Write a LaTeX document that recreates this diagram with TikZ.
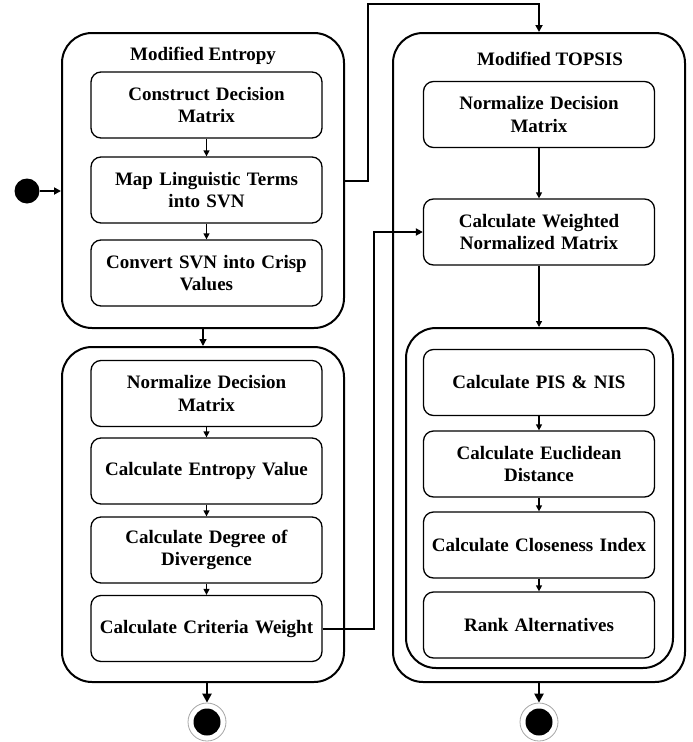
\documentclass[tikz,border=0pt]{standalone}
\usepackage{fontspec}
\setmainfont{Liberation Serif}
\usepackage{tikz}
\usetikzlibrary{arrows.meta}
\tikzset{
	stepbox/.style={draw,line width=1.3pt,rounded corners=10pt,minimum width=231pt,minimum height=66pt,text width=227pt,align=center,inner sep=0pt,font=\fontsize{19}{22.8}\selectfont\bfseries},
	groupbox/.style={draw,line width=2pt,rounded corners=30pt,inner sep=0pt},
	grouptitle/.style={font=\fontsize{19}{22.8}\selectfont\bfseries},
	flow/.style={-{Triangle[length=6pt,width=6pt]},line width=1.3pt},
	link/.style={-{Triangle[length=7pt,width=7pt]},line width=2pt},
	endflow/.style={-{Triangle[length=9pt,width=9pt]},line width=2.6pt},
	ring/.style={circle,draw=gray!70,line width=0.8pt,fill=white,minimum size=38pt,inner sep=0pt},
	dot/.style={circle,fill=black,minimum size=27pt,inner sep=0pt}
}
\begin{document}
\begin{tikzpicture}[x=1pt,y=-1pt]
	\useasboundingbox (0,0) rectangle (693,742);
	\node[groupbox,minimum width=282pt,minimum height=295pt] (ent) at (203,180.5) {};
	\node[groupbox,minimum width=282pt,minimum height=335pt] (agg) at (203,514.5) {};
	\node[groupbox,minimum width=292pt,minimum height=649pt] (top) at (539,357.5) {};
	\node[groupbox,minimum width=267pt,minimum height=340pt] (inn) at (539.5,498) {};
	\node[grouptitle] (entT) at (203,56) {Modified Entropy};
	\node[grouptitle] (topT) at (550,59) {Modified TOPSIS};
	\node[stepbox] (cdm) at (206.5,105) {Construct Decision\\Matrix};
	\node[stepbox] (map) at (206.5,190) {Map Linguistic Terms\\into SVN};
	\node[stepbox] (conv) at (206.5,273) {Convert SVN into Crisp\\Values};
	\node[stepbox] (ndmA) at (206.5,393.5) {Normalize Decision\\Matrix};
	\node[stepbox] (env) at (206.5,471) {Calculate Entropy Value};
	\node[stepbox] (dod) at (206.5,550) {Calculate Degree of\\Divergence};
	\node[stepbox] (crw) at (206.5,628.5) {Calculate Criteria Weight};
	\node[stepbox] (ndmB) at (539,114.5) {Normalize Decision\\Matrix};
	\node[stepbox] (cwn) at (539,232) {Calculate Weighted\\Normalized Matrix};
	\node[stepbox] (pis) at (539,382.5) {Calculate PIS \& NIS};
	\node[stepbox] (euc) at (539,464) {Calculate Euclidean\\Distance};
	\node[stepbox] (cci) at (539,545) {Calculate Closeness Index};
	\node[stepbox] (rank) at (539,625) {Rank Alternatives};
	\node[circle,fill=black,minimum size=25pt,inner sep=0pt] (start) at (27,191) {};
	\node[ring] (endA) at (207,722) {};
	\node[dot] (endAdot) at (endA) {};
	\node[ring] (endB) at (539,722) {};
	\node[dot] (endBdot) at (endB) {};
	\draw[link] (start) -- (start -| ent.west);
	\draw[flow] (cdm) -- (map);
	\draw[flow] (map) -- (conv);
	\draw[link,line width=1.3pt] (ent) -- (agg);
	\draw[flow] (ndmA) -- (env);
	\draw[flow] (env) -- (dod);
	\draw[flow] (dod) -- (crw);
	\draw[link] (ent.east) -- ++(23,0) |- ([yshift=28pt]top.north) -- (top.north);
	\draw[link] (crw.east) -- ++(51,0) |- (cwn.west);
	\draw[flow] (ndmB) -- (cwn);
	\draw[flow] (cwn.south) -- (cwn.south |- inn.north);
	\draw[flow] (pis) -- (euc);
	\draw[flow] (euc) -- (cci);
	\draw[flow] (cci) -- (rank);
	\draw[endflow] (endA |- agg.south) -- (endA);
	\draw[endflow] (top) -- (endB);
\end{tikzpicture}
\end{document}
